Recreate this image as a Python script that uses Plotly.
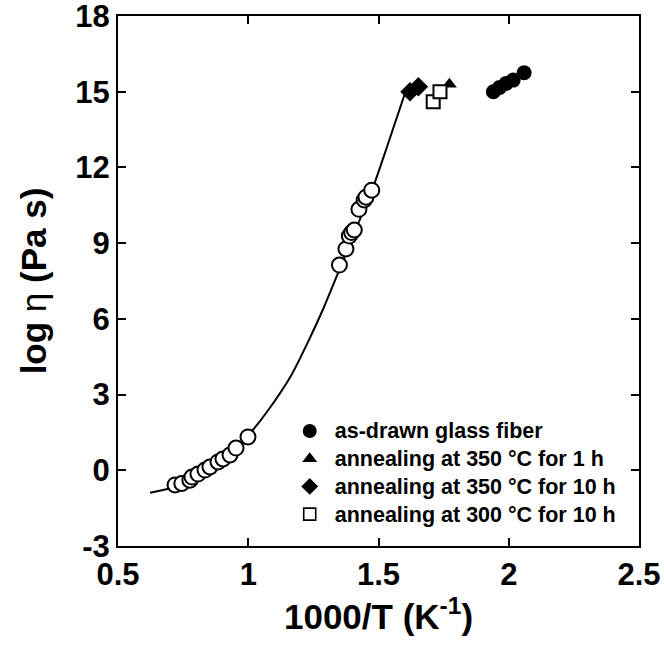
import plotly.graph_objects as go

# Open circles (fit data)
open_x = [0.719, 0.745, 0.776, 0.784, 0.807, 0.834, 0.853, 0.884, 0.903, 0.930, 0.953, 0.999,
          1.350, 1.375, 1.388, 1.397, 1.407, 1.425, 1.445, 1.452, 1.474]
open_y = [-0.58, -0.52, -0.39, -0.27, -0.15, 0.01, 0.13, 0.33, 0.45, 0.61, 0.88, 1.32,
          8.13, 8.77, 9.28, 9.42, 9.52, 10.34, 10.71, 10.82, 11.10]

# Fitted curve
curve_x = [0.623, 0.700, 0.750, 0.800, 0.850, 0.900, 0.950, 1.007, 1.077, 1.167, 1.230,
           1.288, 1.339, 1.400, 1.440, 1.480, 1.537, 1.608]
curve_y = [-0.89, -0.71, -0.52, -0.22, 0.10, 0.44, 0.86, 1.47, 2.39, 3.80, 5.10,
           6.40, 7.67, 9.21, 10.23, 11.24, 12.95, 15.13]

# as-drawn glass fiber
fiber_x = [1.941, 1.965, 1.990, 2.017, 2.059]
fiber_y = [15.00, 15.17, 15.33, 15.46, 15.75]

# annealing at 350 °C for 1 h
a350_1_x = [1.772]
a350_1_y = [15.30]

# annealing at 350 °C for 10 h
a350_10_x = [1.621, 1.653]
a350_10_y = [15.00, 15.20]

# annealing at 300 °C for 10 h
a300_10_x = [1.710, 1.736]
a300_10_y = [14.60, 15.00]

y_ticks = [-3, 0, 3, 6, 9, 12, 15, 18]
y_ticktext = ["-3", "0", "3", "6", "9", "12", "15", "18"]
x_ticks = [0.5, 1, 1.5, 2, 2.5]
x_ticktext = ["0.5", "1", "1.5", "2", "2.5"]

names = ["as-drawn glass fiber", "annealing at 350 °C for 1 h",
         "annealing at 350 °C for 10 h", "annealing at 300 °C for 10 h"]

fig = go.Figure()

fig.add_trace(go.Scatter(x=curve_x, y=curve_y, mode="lines",
                         line=dict(color="black", width=2, shape="spline", smoothing=0.7),
                         showlegend=False, hoverinfo="skip"))
fig.add_trace(go.Scatter(x=open_x, y=open_y, mode="markers",
                         marker=dict(symbol="circle", size=15, color="white",
                                     line=dict(color="black", width=2)),
                         showlegend=False))
fig.add_trace(go.Scatter(x=fiber_x, y=fiber_y, mode="markers", name=names[0], showlegend=False,
                         marker=dict(symbol="circle", size=15, color="black",
                                     line=dict(color="black", width=0))))
fig.add_trace(go.Scatter(x=a350_1_x, y=a350_1_y, mode="markers", name=names[1], showlegend=False,
                         marker=dict(symbol="triangle-up", size=13, color="black",
                                     line=dict(color="black", width=0))))
fig.add_trace(go.Scatter(x=a350_10_x, y=a350_10_y, mode="markers", name=names[2], showlegend=False,
                         marker=dict(symbol="diamond", size=15, color="black",
                                     line=dict(color="black", width=0))))
fig.add_trace(go.Scatter(x=a300_10_x, y=a300_10_y, mode="markers", name=names[3], showlegend=False,
                         marker=dict(symbol="square", size=13, color="white",
                                     line=dict(color="black", width=2))))

# legend entries (symbols sized like the printed key)
legend_marks = [("circle", 14, "black", 0), ("triangle-up", 13, "black", 0),
                ("diamond", 13, "black", 0), ("square", 12, "white", 1.6)]
for nm, (sym, sz, col, lw) in zip(names, legend_marks):
    fig.add_trace(go.Scatter(x=[None], y=[None], mode="markers",
                             name="<span style='font-size:21.5px'>" + nm + "</span>",
                             marker=dict(symbol=sym, size=sz, color=col,
                                         line=dict(color="black", width=lw))))

font_family = "Liberation Sans, Arial, sans-serif"

fig.update_layout(
    width=664, height=646,
    margin=dict(l=118, r=25, t=16, b=100),
    paper_bgcolor="white", plot_bgcolor="white",
    font=dict(family=font_family, color="black"),
    legend=dict(x=0.32, y=0.2525, xanchor="left", yanchor="top",
                bgcolor="rgba(0,0,0,0)", borderwidth=0,
                font=dict(size=19, family=font_family, weight="bold"),
                itemwidth=40, tracegroupgap=0),
    xaxis=dict(range=[0.5, 2.5], tickvals=x_ticks, ticktext=x_ticktext, automargin=False,
               showline=True, linecolor="black", linewidth=2, mirror="ticks",
               ticks="inside", ticklen=8, tickwidth=1.5, tickcolor="black",
               showgrid=False, zeroline=False, ticklabeloverflow="allow",
               tickfont=dict(size=31, family=font_family, weight="bold"),
               title=dict(text="1000/T (K<sup>-1</sup>)", standoff=3,
                          font=dict(size=35, family=font_family, weight="bold"))),
    yaxis=dict(range=[-3, 18], tickvals=y_ticks, ticktext=y_ticktext, automargin=False,
               showline=True, linecolor="black", linewidth=2, mirror="ticks",
               ticks="inside", ticklen=8, tickwidth=1.5, tickcolor="black",
               showgrid=False, zeroline=False, ticklabeloverflow="allow",
               tickfont=dict(size=31, family=font_family, weight="bold"),
               title=dict(text="log <span style='font-weight:normal'>η</span> (Pa s)", standoff=18,
                          font=dict(size=35, family=font_family, weight="bold"))),
)

fig.write_html("out.html")
